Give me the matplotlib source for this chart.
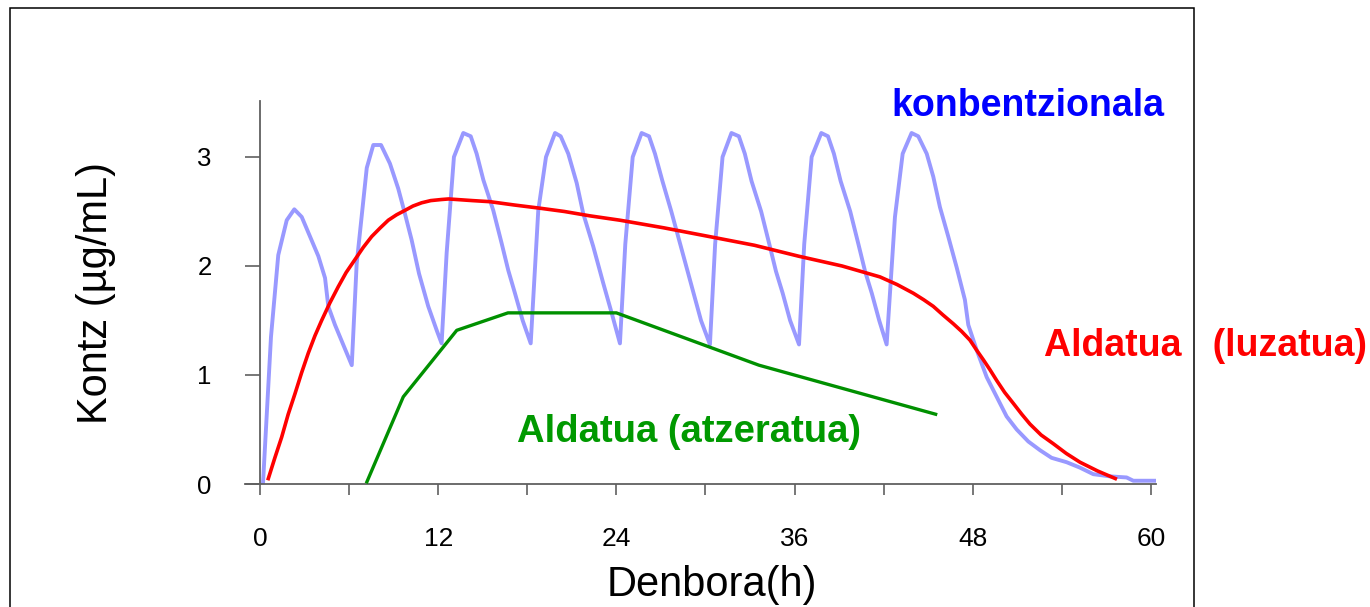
import matplotlib
matplotlib.use("Agg")
import matplotlib.pyplot as plt
from matplotlib.patches import Rectangle

plt.rcParams['font.family'] = ['Liberation Sans', 'DejaVu Sans']

# Conventional dosing (every 6 h), concentration in µg/mL
conv_t = [0.2, 0.74, 1.23, 1.80, 2.31, 2.81, 3.37, 3.93, 4.38, 4.60, 5.05, 6.18,
          6.51, 7.19, 7.63, 8.15, 8.75, 9.31, 9.76, 10.21, 10.71, 11.33, 11.90, 12.23,
          12.57, 13.06, 13.69, 14.19, 14.59, 15.04, 15.71, 16.27, 16.72, 17.17, 17.69, 18.23,
          18.74, 19.26, 19.87, 20.25, 20.76, 21.33, 21.77, 22.44, 23.12, 23.68, 24.24,
          24.60, 25.10, 25.70, 26.20, 26.60, 27.10, 27.70, 28.30, 28.80, 29.20, 29.70, 30.30,
          30.65, 31.15, 31.75, 32.25, 32.65, 33.10, 33.75, 34.30, 34.75, 35.20, 35.70, 36.30,
          36.65, 37.15, 37.80, 38.25, 38.65, 39.10, 39.75, 40.30, 40.75, 41.20, 41.70, 42.20,
          42.76, 43.28, 43.88, 44.33, 44.90, 45.34, 45.79, 46.35, 46.91, 47.47, 47.70, 48.26,
          48.94, 49.61, 50.28, 50.96, 51.74, 52.53, 53.31, 54.32, 55.22, 56.12, 57.24, 58.36,
          58.81, 60.27]
conv_c = [0.00, 1.35, 2.10, 2.42, 2.52, 2.45, 2.27, 2.09, 1.89, 1.63, 1.46, 1.09,
          2.02, 2.90, 3.11, 3.11, 2.94, 2.71, 2.48, 2.24, 1.93, 1.63, 1.41, 1.29,
          2.12, 3.00, 3.22, 3.19, 3.03, 2.79, 2.51, 2.21, 1.96, 1.75, 1.50, 1.29,
          2.51, 3.00, 3.22, 3.19, 3.03, 2.76, 2.48, 2.18, 1.84, 1.57, 1.29,
          2.20, 3.00, 3.22, 3.19, 3.03, 2.78, 2.50, 2.20, 1.95, 1.75, 1.50, 1.28,
          2.20, 3.00, 3.22, 3.19, 3.03, 2.78, 2.50, 2.20, 1.95, 1.75, 1.50, 1.28,
          2.20, 3.00, 3.22, 3.19, 3.03, 2.78, 2.50, 2.20, 1.95, 1.75, 1.50, 1.28,
          2.45, 3.03, 3.22, 3.19, 3.03, 2.82, 2.54, 2.27, 1.99, 1.69, 1.46, 1.23,
          0.98, 0.80, 0.62, 0.50, 0.39, 0.31, 0.24, 0.20, 0.15, 0.09, 0.07, 0.06,
          0.03, 0.03]

# Extended-release formulation
ext_t = [0.56, 1.00, 1.46, 1.90, 2.36, 2.80, 3.25, 3.70, 4.15, 4.70, 5.27, 5.80,
         6.40, 6.95, 7.52, 8.10, 8.64, 9.20, 9.76, 10.30, 10.89, 11.50, 12.23, 12.70,
         13.24, 14.30, 15.49, 17.10, 18.86, 20.50, 22.22, 24.24, 27.20, 30.26, 33.30,
         36.27, 39.20, 41.75, 42.90, 44.00, 44.70, 45.34, 46.00, 46.69, 47.25, 47.81,
         48.25, 48.71, 49.15, 49.61, 50.15, 50.73, 51.30, 51.85, 52.60, 53.42, 54.30,
         55.22, 56.40, 57.60]
ext_c = [0.05, 0.24, 0.43, 0.64, 0.83, 1.02, 1.20, 1.36, 1.50, 1.66, 1.81, 1.94,
         2.06, 2.17, 2.27, 2.35, 2.42, 2.47, 2.51, 2.55, 2.58, 2.60, 2.61, 2.615,
         2.61, 2.60, 2.59, 2.56, 2.53, 2.50, 2.46, 2.42, 2.35, 2.27, 2.19,
         2.09, 2.00, 1.90, 1.83, 1.75, 1.69, 1.63, 1.55, 1.47, 1.40, 1.32,
         1.23, 1.14, 1.05, 0.95, 0.84, 0.74, 0.64, 0.55, 0.45, 0.37, 0.28,
         0.20, 0.12, 0.05]

# Delayed-release formulation
del_t = [7.2, 9.65, 13.25, 16.7, 24.0, 33.6, 45.5]
del_c = [0.02, 0.80, 1.41, 1.57, 1.57, 1.09, 0.64]

x_ticks = [0, 6, 12, 18, 24, 30, 36, 42, 48, 54, 60]
x_tick_labels = ['0', '', '12', '', '24', '', '36', '', '48', '', '60']
y_ticks = [0, 1, 2, 3]
y_tick_labels = ['0', '1', '2', '3']

W, H = 1370, 607
fig = plt.figure(figsize=(W / 100, H / 100), dpi=100)
ax = fig.add_axes([245 / W, 1 - 484 / H, (1156 - 245) / W, (484 - 101.4) / H])

ax.plot(conv_t, conv_c, color='#9999ff', lw=2.8, zorder=2)
ax.plot(ext_t, ext_c, color='#ff0000', lw=2.6, zorder=3, solid_joinstyle='round')
ax.plot(del_t, del_c, color='#009000', lw=2.4, zorder=3)

ax.set_xlim(-1.01, 60.34)
ax.set_ylim(0, 3.51)
ax.spines['top'].set_visible(False)
ax.spines['right'].set_visible(False)
ax.spines['left'].set_position(('data', 0))
for s in ('left', 'bottom'):
    ax.spines[s].set_color('#606060')
    ax.spines[s].set_linewidth(1.3)

ax.set_xticks(x_ticks)
ax.set_xticklabels(x_tick_labels)
ax.set_yticks(y_ticks)
ax.set_yticklabels(y_tick_labels)
ax.tick_params(axis='x', direction='out', length=8, width=1.2, color='#606060',
               pad=23, labelsize=19)
ax.tick_params(axis='y', direction='out', length=10.8, width=1.2, color='#606060',
               pad=24, labelsize=18.5)

fig.text(712 / W, 1 - 596 / H, 'Denbora(h)', fontsize=30, ha='center', va='baseline')
fig.text(95.5 / W, 1 - 293 / H, 'Kontz (µg/mL)', fontsize=30, rotation=90,
         ha='center', va='center')

fig.text(1028 / W, 1 - 116 / H, 'konbentzionala', fontsize=27, fontweight='bold',
         color='#0000ff', ha='center', va='baseline')
fig.text(1206 / W, 1 - 356 / H, 'Aldatua   (luzatua)', fontsize=27, fontweight='bold',
         color='#ff0000', ha='center', va='baseline')
fig.text(688.5 / W, 1 - 441.7 / H, 'Aldatua (atzeratua)', fontsize=27.5, fontweight='bold',
         color='#009900', ha='center', va='baseline')

fig.patches.append(Rectangle((10 / W, -0.02), (1194 - 10) / W, (1 - 8 / H) + 0.02,
                             transform=fig.transFigure, fill=False,
                             edgecolor='black', linewidth=1.1))

fig.savefig('out.png', dpi=100)
